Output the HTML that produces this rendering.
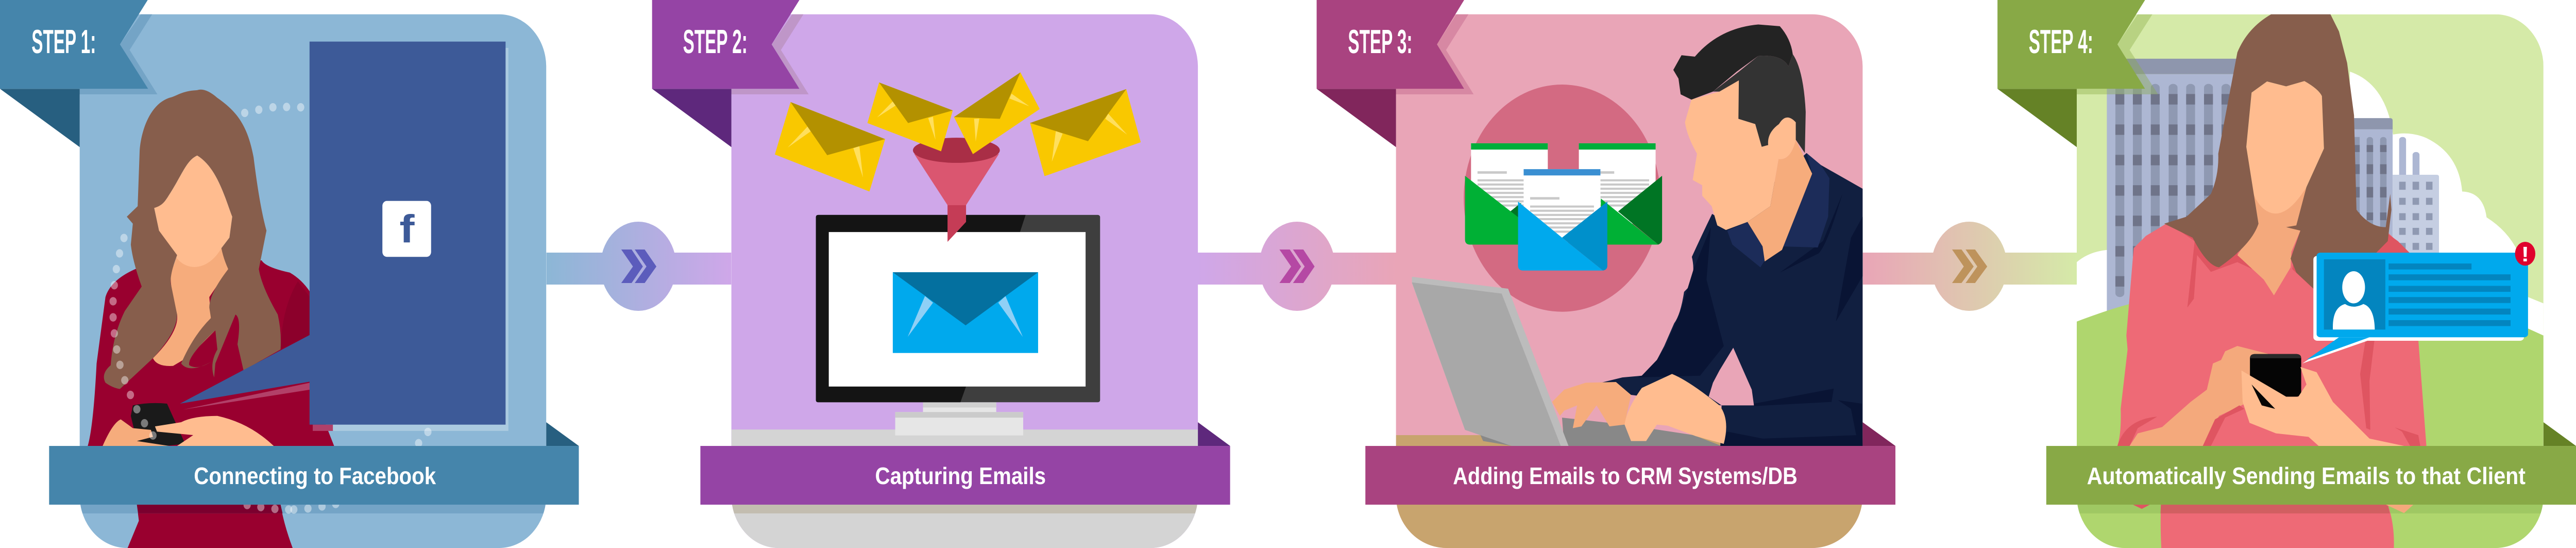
<!DOCTYPE html>
<html><head><meta charset="utf-8"><title>Steps</title>
<style>html,body{margin:0;padding:0;background:#fff;width:100%;height:100%;overflow:hidden}
svg{display:block;position:absolute;left:0;top:0;width:100vw;height:100vh}
.s{font-family:"Liberation Sans",sans-serif;font-weight:700;font-size:65px;fill:#fff}
.l{font-family:"Liberation Sans",sans-serif;font-weight:700;font-size:46px;fill:#fff}</style></head>
<body>
<svg xmlns="http://www.w3.org/2000/svg" viewBox="0 0 5714 1063" preserveAspectRatio="none">
<defs>
<linearGradient id="c1" gradientUnits="userSpaceOnUse" x1="1212" x2="1622" y1="0" y2="0"><stop offset="0" stop-color="#8cb7d6"/><stop offset="1" stop-color="#cfa7e9"/></linearGradient>
<linearGradient id="c2" gradientUnits="userSpaceOnUse" x1="2657" x2="3097" y1="0" y2="0"><stop offset="0" stop-color="#cfa7e9"/><stop offset="1" stop-color="#e9a5b7"/></linearGradient>
<linearGradient id="c3" gradientUnits="userSpaceOnUse" x1="4132" x2="4607" y1="0" y2="0"><stop offset="0" stop-color="#e9a5b7"/><stop offset="1" stop-color="#d5eaa8"/></linearGradient>
<clipPath id="cp4"><path d="M340 41H1370A118 150 0 0 1 1488 191V1418A118 150 0 0 1 1370 1568H458A118 150 0 0 1 340 1418Z"/></clipPath>
<clipPath id="cp3"><path d="M310 41H1275A117 150 0 0 1 1392 191V1418A117 150 0 0 1 1275 1568H427A117 150 0 0 1 310 1418Z"/></clipPath>
<clipPath id="cp2"><path d="M249 41H1291A117 150 0 0 1 1408 191V1418A117 150 0 0 1 1291 1568H366A117 150 0 0 1 249 1418Z"/></clipPath>
<clipPath id="cp1"><path d="M198 41H1240A117 150 0 0 1 1357 191V1418A117 150 0 0 1 1240 1568H315A117 150 0 0 1 198 1418Z"/></clipPath>
</defs>

<!-- connectors -->
<rect x="1212" y="490" width="410" height="62" fill="url(#c1)"/>
<ellipse cx="1416" cy="516.500" rx="84" ry="86.500" fill="url(#c1)"/>
<rect x="2657" y="490" width="440" height="62" fill="url(#c2)"/>
<ellipse cx="2877" cy="516.500" rx="84" ry="86.500" fill="url(#c2)"/>
<rect x="4132" y="490" width="475" height="62" fill="url(#c3)"/>
<ellipse cx="4368" cy="516.500" rx="84" ry="86.500" fill="url(#c3)"/>
<g fill="#5c5cbc"><path d="M1378 484H1401L1426 517L1401 549H1378L1404 517Z"/><path d="M1408 484H1430L1456 517L1430 549H1408L1434 517Z"/></g>
<g fill="#b548a4"><path d="M2838 484H2861L2886 517L2861 549H2838L2864 517Z"/><path d="M2868 484H2891L2916 517L2891 549H2868L2894 517Z"/></g>
<g fill="#be935c"><path d="M4330 484H4351L4378 517L4351 549H4330L4356 517Z"/><path d="M4360 484H4381L4408 517L4381 549H4360L4386 517Z"/></g>

<!-- PANEL 1 -->
<g transform="scale(.89286,.67793)">
<path d="M198 41H1240A117 150 0 0 1 1357 191V1418A117 150 0 0 1 1240 1568H315A117 150 0 0 1 198 1418Z" fill="#8cb7d6"/>
<polygon points="350,41 378,41 322,143 391,270 198,270 198,254 368,254 298,127" fill="#74a4c6"/>
<!-- woman -->
<path d="M218 1276Q232 1220 240 1040L262 850Q275 800 340 768L650 745Q660 765 720 780Q750 800 770 835V1100L830 1276Z" fill="#99002f"/>
<path d="M740 805Q700 880 697 1000L770 960V850Z" fill="#8c002b"/>
<path d="M340 1444L345 1490L317 1568H727Q705 1500 697 1444Z" fill="#99002f"/>
<path d="M440 730L425 780Q420 810 440 900Q445 950 380 1025Q390 1050 430 1047Q440 1040 470 1020L535 945L524 910L520 850L567 770L550 710Z" fill="#f6ac7c"/>
<path d="M490 445C460 460 450 510 410 575L383 595L395 660L440 740C470 780 520 770 550 710L570 680L577 620C560 570 540 480 490 445Z" fill="#ffbc8f"/>
<path d="M490 258C450 260 440 275 420 280C370 300 350 380 347 430L342 590L315 620L330 640L325 700Q330 750 352 820L310 890Q280 960 275 1045Q250 1070 262 1095Q280 1110 298 1113L380 1025Q440 950 440 900L425 815Q420 790 440 730L395 660L383 595Q400 590 410 575C450 510 460 460 490 445C540 480 560 570 577 620L570 680L550 710Q555 740 567 770Q520 840 520 880L524 910Q480 960 450 1040Q470 1070 525 1035Q490 1060 470 1045Q465 1020 535 945L540 1000Q520 1040 532 1080L535 1040L585 900Q600 910 590 985L605 1060L697 1000Q700 950 690 900Q650 820 643 770L662 660Q645 590 630 450C615 360 590 320 540 280Q510 250 490 258Z" fill="#875e4c"/>
<path d="M325 1190L330 1160Q370 1150 415 1155L460 1270L410 1276H360L340 1262Z" fill="#1a1a1a"/>
<path d="M255 1276Q280 1210 300 1200L330 1225L375 1230L380 1250L340 1262L420 1276Z" fill="#f6ac7c"/>
<path d="M385 1220L450 1208Q480 1190 540 1190Q620 1210 680 1276H440L480 1245L390 1235Z" fill="#ffbc8f"/>
<!-- fb -->
<polygon points="455,1172 770,1095 770,1115" fill="#b24068"/>
<rect x="777" y="1215" width="53" height="18" fill="#b0406a"/>
<path d="M827 1215H1256V137H1263V1233H827Z" fill="#abcae0"/>
<polygon points="447,1155 770,958 770,1092" fill="#3d5a98"/>
<rect x="769" y="119" width="487" height="1096" fill="#3d5a98"/>
<rect x="950" y="575" width="121" height="160" rx="11" ry="14" fill="#fff"/>
<text x="1011" y="693" text-anchor="middle" font-family="Liberation Sans,sans-serif" font-weight="700" font-size="112" fill="#3d5a98">f</text>
<g fill="#fff" fill-opacity=".42">
<ellipse cx="608" cy="323" rx="9" ry="12"/><ellipse cx="643" cy="314" rx="9" ry="12"/><ellipse cx="678" cy="307" rx="9" ry="12"/><ellipse cx="712" cy="306" rx="9" ry="12"/><ellipse cx="747" cy="307" rx="9" ry="12"/>
<ellipse cx="308" cy="681" rx="9" ry="12"/><ellipse cx="297" cy="725" rx="9" ry="12"/><ellipse cx="289" cy="770" rx="9" ry="12"/><ellipse cx="284" cy="816" rx="9" ry="12"/><ellipse cx="281" cy="862" rx="9" ry="12"/><ellipse cx="281" cy="908" rx="9" ry="12"/><ellipse cx="284" cy="954" rx="9" ry="12"/><ellipse cx="290" cy="1000" rx="9" ry="12"/><ellipse cx="298" cy="1044" rx="9" ry="12"/><ellipse cx="310" cy="1088" rx="9" ry="12"/><ellipse cx="324" cy="1130" rx="9" ry="12"/><ellipse cx="340" cy="1171" rx="9" ry="12"/><ellipse cx="359" cy="1211" rx="9" ry="12"/><ellipse cx="380" cy="1246" rx="9" ry="12"/>
<ellipse cx="1063" cy="1236" rx="9" ry="12"/><ellipse cx="1040" cy="1268" rx="9" ry="12"/>
</g>
<rect x="198" y="1444" width="1159" height="25" fill="#74a4c6" clip-path="url(#cp1)"/>
<path d="M340 1444H697L702 1469H343Z" fill="#7b002e"/>
<g fill="#fff" fill-opacity=".42"><ellipse cx="614" cy="1445" rx="9" ry="12"/><ellipse cx="648" cy="1451" rx="9" ry="12"/><ellipse cx="683" cy="1456" rx="9" ry="12"/><ellipse cx="717" cy="1458" rx="9" ry="12"/><ellipse cx="730" cy="1458" rx="9" ry="12"/><ellipse cx="765" cy="1455" rx="9" ry="12"/><ellipse cx="800" cy="1449" rx="9" ry="12"/><ellipse cx="834" cy="1442" rx="9" ry="12"/></g>
<polygon points="1357,1208 1438,1276 1357,1276" fill="#275f80"/>
<rect x="122" y="1276" width="1316" height="168" fill="#4585ab"/>
<polygon points="0,254 198,254 198,421" fill="#275f80"/>
<polygon points="0,0 367,0 298,127 368,254 0,254" fill="#4585ab"/>
</g>

<!-- PANEL 2 -->
<g transform="translate(1400,0) scale(.89286,.67793)">
<path d="M249 41H1291A117 150 0 0 1 1408 191V1418A117 150 0 0 1 1291 1568H366A117 150 0 0 1 249 1418Z" fill="#cfa7e9"/>
<g clip-path="url(#cp2)"><rect x="249" y="1229" width="1159" height="340" fill="#d4d4d4"/><rect x="249" y="1444" width="1159" height="25" fill="#c3bdb0"/></g>
<polygon points="400,41 428,41 372,143 441,270 249,270 249,254 418,254 349,127" fill="#bf96c8"/>
<!-- monitor -->
<rect x="725" y="1151" width="182" height="32" fill="#e6e6e6"/><rect x="725" y="1151" width="182" height="15" fill="#d0d0d0"/>
<rect x="656" y="1179" width="318" height="67" fill="#e6e6e6"/><rect x="656" y="1179" width="318" height="16" fill="#cbcbcb"/>
<rect x="459" y="615" width="706" height="536" rx="6" fill="#3e3e3e"/>
<path d="M465 615H980L966 664H491V1106H832L818 1151H465Q459 1151 459 1145V621Q459 615 465 615Z" fill="#141414"/>
<rect x="491" y="664" width="638" height="442" fill="#fff"/>
<rect x="650" y="779" width="361" height="231" fill="#00a9ed"/>
<polygon points="730,847 750,866 687,964" fill="#8fd0f6"/><polygon points="930,847 912,866 973,964" fill="#8fd0f6"/>
<polygon points="650,779 1011,779 831,931" fill="#04709f"/>
<!-- funnel -->
<path d="M703 440Q808 490 914 440L832 587H786Z" fill="#da5670"/>
<ellipse cx="808" cy="430" rx="108" ry="36" fill="#a92e46"/>
<polygon points="786,587 832,587 832,635 786,692" fill="#c53c56"/>
<!-- envelopes -->
<polygon points="396,292 631,398 592,548 357,442" fill="#f9c800"/><polygon points="440,360 389,422 446,376" fill="#ffdf5d"/><polygon points="552,424 567,418 576,508" fill="#ffdf5d"/><polygon points="396,292 631,398 487,444" fill="#b39100"/>
<polygon points="616,236 799,316 770,433 587,352" fill="#f9c800"/><polygon points="650,290 611,336 657,302" fill="#ffdf5d"/><polygon points="738,338 750,334 756,400" fill="#ffdf5d"/><polygon points="616,236 799,316 688,352" fill="#b39100"/>
<polygon points="967,207 1015,312 849,441 802,335" fill="#f9c800"/><polygon points="945,268 989,304 940,282" fill="#ffdf5d"/><polygon points="852,340 865,339 856,405" fill="#ffdf5d"/><polygon points="967,207 802,335 916,340" fill="#b39100"/>
<polygon points="1230,255 1266,407 1027,504 991,352" fill="#f9c800"/><polygon points="1185,325 1232,385 1178,340" fill="#ffdf5d"/><polygon points="1055,375 1072,382 1045,463" fill="#ffdf5d"/><polygon points="1230,255 991,352 1135,404" fill="#b39100"/>
<polygon points="1408,1208 1488,1276 1408,1276" fill="#5e287c"/>
<rect x="172" y="1276" width="1316" height="168" fill="#9544a5"/>
<polygon points="52,254 249,254 249,421" fill="#5e287c"/>
<polygon points="52,0 418,0 349,127 418,254 52,254" fill="#9544a5"/>
</g>

<!-- PANEL 3 -->
<g transform="translate(2800,0) scale(.95663,.67793)">
<path d="M310 41H1275A117 150 0 0 1 1392 191V1418A117 150 0 0 1 1275 1568H427A117 150 0 0 1 310 1418Z" fill="#e9a5b7"/>
<g clip-path="url(#cp3)"><rect x="310" y="1245" width="1082" height="324" fill="#c8a46e"/></g>
<polygon points="450,41 478,41 426,143 490,270 310,270 310,254 468,254 405,127" fill="#d788a3"/>
<ellipse cx="695" cy="567" rx="228" ry="325" fill="#d36a82"/>
<!-- back mails -->
<rect x="484" y="410" width="178" height="230" fill="#fff"/><rect x="484" y="410" width="178" height="18" fill="#00ae3b"/>
<rect x="734" y="410" width="178" height="230" fill="#fff"/><rect x="734" y="410" width="178" height="18" fill="#00ae3b"/>
<g fill="#c9c9c9"><rect x="499" y="490" width="68" height="7"/><rect x="499" y="513" width="107" height="6"/><rect x="499" y="525" width="107" height="6"/><rect x="499" y="537" width="107" height="6"/><rect x="499" y="549" width="107" height="6"/><rect x="499" y="561" width="107" height="6"/><rect x="499" y="573" width="107" height="6"/><rect x="499" y="585" width="107" height="6"/>
<rect x="784" y="490" width="32" height="7"/><rect x="784" y="513" width="113" height="6"/><rect x="784" y="525" width="113" height="6"/><rect x="784" y="537" width="113" height="6"/><rect x="784" y="549" width="113" height="6"/><rect x="784" y="561" width="113" height="6"/><rect x="784" y="573" width="113" height="6"/><rect x="784" y="585" width="113" height="6"/></g>
<polygon points="575,605 600,580 600,628" fill="#007524"/>
<path d="M470 503L600 628V700H482Q470 700 470 685Z" fill="#00b035"/>
<path d="M927 503L825 605L918 700Q927 695 927 685Z" fill="#007524"/>
<polygon points="785,568 918,700 785,700" fill="#00b035"/>
<!-- centre mail -->
<rect x="606" y="484" width="178" height="210" fill="#fff"/><rect x="606" y="484" width="178" height="18" fill="#3a8fd2"/>
<g fill="#c9c9c9"><rect x="621" y="564" width="68" height="7"/><rect x="621" y="588" width="148" height="6"/><rect x="621" y="600" width="148" height="6"/><rect x="621" y="612" width="148" height="6"/><rect x="621" y="624" width="148" height="6"/><rect x="621" y="636" width="148" height="6"/><rect x="621" y="648" width="148" height="6"/><rect x="621" y="660" width="148" height="6"/></g>
<path d="M593 577L695 680L790 774H605Q593 774 593 760Z" fill="#00a9ed"/>
<path d="M800 577L695 680L790 774Q800 772 800 760Z" fill="#0090cb"/>
<!-- laptop base -->
<polygon points="695,1195 840,1215 1000,1245 1065,1276 700,1276" fill="#888"/>
<polygon points="505,1243 512,1262 580,1276 600,1276 540,1243" fill="#888"/>
<!-- man -->
<path d="M1392 540L1295 472L1262 438L1080 640L1043 612Q1020 670 996 735Q1005 780 990 820L978 835Q970 900 955 925L932 990L915 1030L880 1075L835 1080L785 1095L855 1130L1065 1160L1062 1276H1392Z" fill="#111f40"/>
<polygon points="1092,995 1135,1115 1140,1160 1065,1160 1035,1135 1045,1095 1060,1060" fill="#e9a5b7"/>
<path d="M1345 555L1300 690L1200 780L1290 725Q1310 700 1345 555Z" fill="#091434"/>
<path d="M1392 620L1365 680L1330 920L1392 790Z" fill="#091434"/>
<path d="M1040 650L1030 800L1070 990L1015 1075L870 1080L880 1075L915 1030L1000 1060L910 1040L935 990L970 890L1000 770Z" fill="#091434"/>
<path d="M1140 1155L1325 1112L1320 1150L1140 1162Z" fill="#091434"/>
<path d="M1335 1145L1390 1155L1392 1276H1382L1365 1170Z" fill="#091434"/>
<path d="M1078 1235L1160 1255L1382 1245V1276H1062Z" fill="#091434"/>
<path d="M1262 438L1275 497L1212 680L1205 705L1288 708L1312 620L1315 510L1295 472Z" fill="#1c2c59"/>
<path d="M1078 660L1125 635L1160 705L1165 745L1155 765L1090 700Z" fill="#1c2c59"/>
<path d="M1197 455L1178 590L1125 635L1160 705L1165 748L1205 715L1275 497L1237 400Q1225 460 1197 455Z" fill="#f6ac7c"/>
<path d="M995 285L980 350Q985 390 1008 440L998 515L1020 530L1020 560L1042 590L1055 645L1075 658L1125 635L1178 590L1197 455Q1225 460 1237 400L1237 350Q1215 320 1198 355Q1170 380 1173 415L1158 420L1143 355L1104 340L1105 230L1060 262Z" fill="#ffbc8f"/>
<path d="M1045 262L1105 205L1150 160Q1205 155 1220 190L1230 155Q1255 200 1260 320L1258 438L1237 400L1237 350Q1215 320 1198 355Q1170 380 1173 415L1158 420L1143 355L1104 340L1105 230L1060 262Z" fill="#333"/>
<path d="M995 285L970 270L965 225L953 200L972 158L1003 162Q1060 80 1150 70L1200 75Q1225 110 1230 155L1220 190Q1205 155 1150 160L1100 205L1045 262Z" fill="#232323"/>
<path d="M672 1150L700 1115L750 1095L820 1093L855 1130L840 1215L805 1220L790 1190L775 1160L740 1220L720 1225L730 1160L700 1175L690 1190Z" fill="#f6ac7c"/>
<path d="M840 1215Q845 1170 880 1110L950 1070Q990 1090 1060 1160Q1085 1200 1070 1270L1005 1248L940 1218L915 1215L890 1262L855 1262Z" fill="#ffbc8f"/>
<polygon points="347,792 570,826 710,1276 690,1276 555,860 470,1230 347,810" fill="#bcbcbc"/>
<polygon points="347,808 555,840 692,1276 578,1276 470,1230" fill="#a8a8a8"/>
<polygon points="1392,1208 1468,1276 1392,1276" fill="#81265c"/>
<rect x="239" y="1276" width="1229" height="168" fill="#a94380"/>
<polygon points="126,254 310,254 310,421" fill="#81265c"/>
<polygon points="126,0 468,0 405,127 468,254 126,254" fill="#a94380"/>
</g>

<!-- PANEL 4 -->
<g transform="translate(4300,0) scale(.90179,.67793)">
<g clip-path="url(#cp4)">
<rect x="340" y="41" width="1148" height="1530" fill="#d5eaa8"/>
<path d="M340 750Q370 720 415 715V930H340Z" fill="#fff"/>
<path d="M1012 205Q1100 240 1118 385Q1160 375 1200 395Q1280 440 1288 548Q1340 550 1348 622Q1400 660 1425 720L1450 850L1488 868V970L1200 1000H1000Z" fill="#fff"/>
<!-- big building -->
<rect x="414" y="212" width="321" height="690" fill="#adb7d3"/>
<rect x="462" y="168" width="273" height="44" fill="#8e96ad"/>
<g fill="#8f99b2"><rect x="435" y="240" width="22" height="610" rx="11"/><rect x="478" y="240" width="22" height="610" rx="11"/><rect x="522" y="240" width="22" height="610" rx="11"/><rect x="566" y="240" width="22" height="610" rx="11"/><rect x="609" y="240" width="22" height="610" rx="11"/><rect x="653" y="240" width="22" height="610" rx="11"/><rect x="696" y="240" width="22" height="610" rx="11"/></g>
<g fill="#6f7489"><path d="M435 269H718V299H435ZM435 356H718V386H435ZM435 443H718V473H435ZM435 530H718V560H435ZM435 617H718V647H435ZM435 704H718V734H435ZM435 790H718V820H435Z"/></g>
<g fill="#adb7d3"><rect x="457" y="240" width="21" height="620"/><rect x="500" y="240" width="22" height="620"/><rect x="544" y="240" width="22" height="620"/><rect x="588" y="240" width="21" height="620"/><rect x="631" y="240" width="22" height="620"/><rect x="675" y="240" width="21" height="620"/></g>
<!-- second building -->
<rect x="1022" y="370" width="95" height="350" fill="#adb7d3"/><path d="M1022 338H1110Q1117 338 1117 345V370H1022Z" fill="#8e96ad"/>
<g fill="#8f99b2"><rect x="1022" y="392" width="14" height="280"/><rect x="1053" y="392" width="16" height="280" rx="8"/><rect x="1086" y="392" width="16" height="280" rx="8"/></g>
<g fill="#6f7489"><rect x="1022" y="415" width="80" height="20"/><rect x="1022" y="470" width="80" height="28"/><rect x="1022" y="535" width="80" height="30"/><rect x="1022" y="608" width="80" height="22"/></g>
<g fill="#adb7d3"><rect x="1036" y="392" width="17" height="280"/><rect x="1069" y="392" width="17" height="280"/></g>
<!-- third building -->
<rect x="1133" y="392" width="17" height="120" rx="8" fill="#adb7d3"/><rect x="1166" y="435" width="17" height="80" rx="8" fill="#adb7d3"/>
<path d="M1117 500H1225Q1231 500 1231 506V725H1117Z" fill="#c5cee2"/>
<g fill="#8f99b2"><rect x="1133" y="520" width="16" height="23"/><rect x="1166" y="520" width="16" height="23"/><rect x="1199" y="520" width="16" height="23"/><rect x="1133" y="566" width="16" height="20"/><rect x="1166" y="566" width="16" height="20"/><rect x="1199" y="566" width="16" height="20"/><rect x="1133" y="610" width="16" height="20"/><rect x="1166" y="610" width="16" height="20"/><rect x="1199" y="610" width="16" height="20"/><rect x="1133" y="652" width="16" height="20"/><rect x="1166" y="652" width="16" height="20"/><rect x="1199" y="652" width="16" height="20"/><rect x="1133" y="695" width="16" height="20"/><rect x="1166" y="695" width="16" height="20"/><rect x="1199" y="695" width="16" height="20"/></g>
<!-- ground -->
<path d="M340 920Q420 885 470 870L1100 900L1450 940L1488 960V1570H340Z" fill="#afd66e"/>
<rect x="340" y="1444" width="1148" height="25" fill="#9fc863"/>
</g>
<polygon points="490,41 526,41 470,143 540,270 340,270 340,254 508,254 440,127" fill="#8aaa45" fill-opacity=".38"/>
<!-- woman -->
<path d="M440 1276Q450 1240 448 1170L465 1000L462 960L480 710L510 675L560 640L1100 660L1160 725L1180 970L1200 1276Z" fill="#ee6a76"/>
<path d="M547 1444Q545 1500 548 1568H1120Q1122 1500 1105 1444Z" fill="#ee6a76"/>
<path d="M547 1444H1105L1110 1469H546Z" fill="#d15f61"/>
<path d="M478 1444L500 1456L520 1444Z" fill="#df5561"/><path d="M1100 1444L1145 1468L1168 1444Z" fill="#f4a97c"/>
<path d="M592 660L630 690L612 880L628 855L636 730L670 778L735 750L772 770L735 725L690 700Z" fill="#df5561"/>
<path d="M1050 975H1072L1060 1090L1062 1230L1052 1225L1037 1070Z" fill="#df5561"/>
<path d="M440 1276Q460 1200 538 1192L490 1225L470 1276Z" fill="#df5561"/>
<path d="M1122 1223L1180 1245L1185 1276H1160L1140 1235Z" fill="#df5561"/>
<path d="M870 770L935 840V725H1075L1160 725L1130 690L1100 665L880 700Z" fill="#df5561"/>
<path d="M775 555L905 535L880 650L890 660L868 720L866 765L825 845L800 800L735 730Q780 650 787 640Z" fill="#f4a97c"/>
<path d="M808 233L855 247L900 232Q935 255 943 275L948 425L905 535Q860 620 820 610Q790 600 775 555L757 420L770 265Z" fill="#ffbc8f"/>
<path d="M818 41H964L985 90L1005 180L1022 330L1028 600Q1060 650 1100 650L1111 555L1114 600L1105 690L1075 725H935V840L880 780L866 740L890 660L855 650L880 645L905 535L948 425L943 275Q935 255 900 232L855 247L808 233L770 265L757 420L787 640Q770 700 690 765Q660 760 625 680L555 640L610 620L670 555Q690 500 688 440L735 150Q760 80 818 41Z" fill="#875e4c"/>
<path d="M470 1276L490 1240L550 1222L620 1150L660 1115L675 1040L695 1030L705 1005L735 990L810 1012L800 1130L745 1160L690 1190L650 1276Z" fill="#f4a97c"/>
<path d="M650 1276L680 1200L740 1160L752 1170L705 1195L670 1276Z" fill="#df5561"/>
<rect x="766" y="1013" width="126" height="122" rx="12" fill="#050505"/><path d="M766 1025Q766 1013 778 1013H880Q892 1013 892 1025Z" fill="#2a2a2a"/>
<path d="M745 1060L855 1135H885L905 1100L890 1050L930 1065L970 1150L1060 1255L1145 1276H935L910 1250L830 1240L765 1210L748 1150Z" fill="#ffbc8f"/>
<polygon points="770,1100 828,1170 795,1160" fill="#050505"/>
<!-- bubble -->
<rect x="922" y="732" width="518" height="243" rx="10" fill="#fff"/>
<polygon points="990,965 895,1040 1055,975" fill="#fff"/>
<rect x="930" y="723" width="520" height="242" rx="9" fill="#00a9ed"/>
<polygon points="985,965 905,1030 1060,965" fill="#00a9ed"/>
<rect x="948" y="742" width="151" height="201" fill="#0385bf"/>
<ellipse cx="1021" cy="822" rx="28" ry="46" fill="#fff"/>
<path d="M970 943Q968 880 1000 870Q1020 885 1045 870Q1072 880 1073 943Z" fill="#fff"/>
<g fill="#0385bf"><rect x="1107" y="754" width="204" height="17"/><rect x="1107" y="785" width="300" height="17"/><rect x="1107" y="818" width="300" height="17"/><rect x="1107" y="850" width="300" height="17"/><rect x="1107" y="883" width="300" height="17"/><rect x="1107" y="916" width="300" height="17"/></g>
<ellipse cx="1443" cy="726" rx="25" ry="34" fill="#e0012d"/>
<text x="1443" y="748" text-anchor="middle" font-family="Liberation Sans,sans-serif" font-weight="700" font-size="60" fill="#fff">!</text>
<polygon points="1488,1208 1568,1276 1488,1276" fill="#658226"/>
<rect x="265" y="1276" width="1303" height="168" fill="#88a946"/>
<polygon points="145,254 340,254 340,421" fill="#658226"/>
<polygon points="145,0 508,0 440,127 508,254 145,254" fill="#88a946"/>
</g>

<!-- text -->
<text class="s" x="70" y="103" textLength="143" lengthAdjust="spacingAndGlyphs">STEP 1:</text>
<text class="s" x="1515" y="103" textLength="143" lengthAdjust="spacingAndGlyphs">STEP 2:</text>
<text class="s" x="2990" y="103" textLength="143" lengthAdjust="spacingAndGlyphs">STEP 3:</text>
<text class="s" x="4500" y="103" textLength="143" lengthAdjust="spacingAndGlyphs">STEP 4:</text>
<text class="l" x="430" y="939" textLength="537" lengthAdjust="spacingAndGlyphs">Connecting to Facebook</text>
<text class="l" x="1941" y="939" textLength="379" lengthAdjust="spacingAndGlyphs">Capturing Emails</text>
<text class="l" x="3223" y="939" textLength="764" lengthAdjust="spacingAndGlyphs">Adding Emails to CRM Systems/DB</text>
<text class="l" x="4629" y="939" textLength="973" lengthAdjust="spacingAndGlyphs">Automatically Sending Emails to that Client</text>
</svg>
</body></html>
